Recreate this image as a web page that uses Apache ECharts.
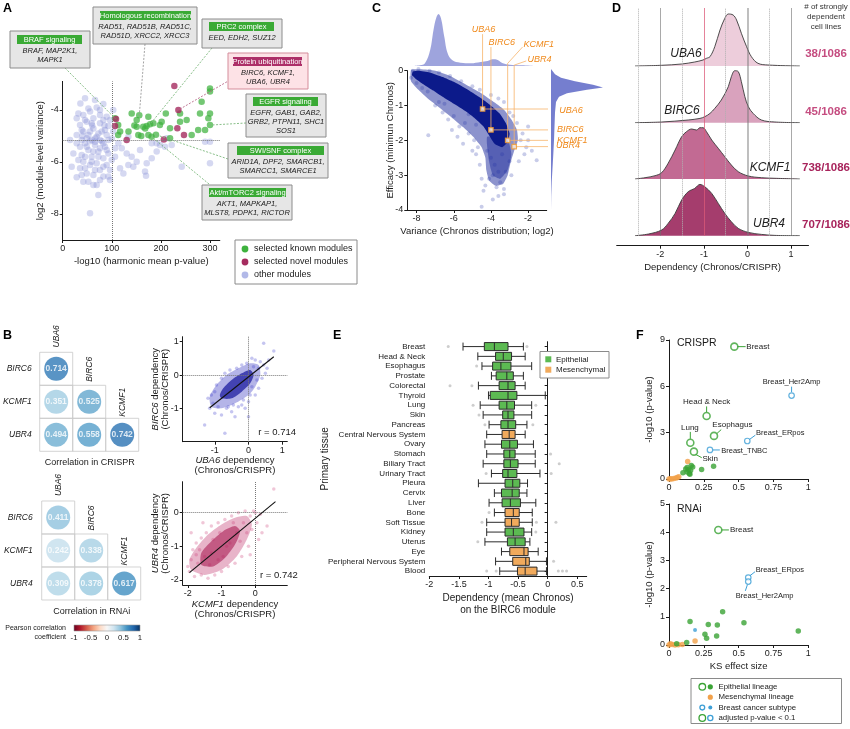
<!DOCTYPE html>
<html>
<head>
<meta charset="utf-8">
<script src="https://cdn.jsdelivr.net/npm/echarts@6/dist/echarts.min.js"></script>
<style>
  html, body { margin: 0; padding: 0; background: #fff; }
  #chart { width: 850px; height: 729px; }
</style>
</head>
<body>
<div id="chart"></div>
<script>
const FONT = '"Liberation Sans", Arial, Helvetica, sans-serif';
const INK = '#1a1a1a';

// ---------- A: module variance vs harmonic mean p ----------
const aKnown = [[106.6,-4.32],[113,-4.58],[117,-4.83],[113,-4.96],[134,-4.83],[140.5,-4.13],[150.7,-4.38],[150.7,-4.64],
  [154,-4.96],[164,-4.64],[168,-4.71],[171,-4.62],[174.5,-4.26],[174.5,-4.96],[181,-5.03],[184.7,-4.51],[198,-4.58],
  [201.6,-4.45],[210,-4.13],[218.6,-4.7],[218.6,-5.09],[239,-4.13],[239,-4.45],[252.5,-4.38],[262.7,-4.96],[276,-4.77],
  [279.7,-4.13],[283,-3.68],[290,-4.77],[296.7,-4.32],[300,-3.17],[300,-3.29],[300,-4.13],[300,-4.58],[156,-4.2],
  [146,-4.6],[178,-4.55],[190,-4.95],[160,-5.0]];
const aNovel = [[227.4,-3.08],[235.6,-4.0],[108.6,-4.35],[106.6,-4.62],[130.3,-5.15],[206,-5.13],[233.5,-4.7],[247,-4.96]];
const aOther = [[45.5,-3.55],[82.8,-3.77],[69.2,-3.9],[55.7,-4.06],[76,-4.19],[42,-4.19],[28.5,-4.32],[62.5,-4.32],
  [89.6,-4.26],[48.9,-4.45],[76,-4.51],[35.3,-4.58],[93,-4.62],[62.5,-4.71],[42,-4.83],[79.4,-4.83],[52.3,-4.96],
  [28.5,-4.96],[89.6,-4.96],[69.2,-5.03],[38.7,-5.15],[59,-5.15],[76,-5.15],[93,-5.15],[45.5,-5.28],[65.8,-5.35],
  [35.3,-5.41],[86.2,-5.41],[52.3,-5.54],[72.6,-5.6],[93,-5.67],[38.7,-5.73],[59,-5.8],[82.8,-5.86],[42,-5.99],
  [69.2,-6.05],[55.7,-6.12],[89.6,-6.12],[35.3,-6.24],[76,-6.31],[48.9,-6.44],[62.5,-6.5],[96.4,-6.69],[42,-6.76],
  [69.2,-6.88],[28.5,-6.59],[72.6,-7.27],[55.7,-7.97],[93,-6.56],[103,-4.0],[96.4,-4.38],[103,-4.83],[106.6,-5.47],
  [99.8,-5.92],[15,-5.15],[21.7,-5.67],[18.3,-6.18],[52.3,-3.94],[65.8,-3.62],[76,-4.0],[31.9,-4.13],[45.5,-4.38],
  [59,-4.51],[82.8,-4.38],[38.7,-4.77],[55.7,-4.83],[72.6,-4.9],[86.2,-4.77],[48.9,-5.09],[65.8,-5.22],[82.8,-5.28],
  [28.5,-5.28],[48.9,-5.41],[76,-5.47],[62.5,-5.6],[89.6,-5.54],[45.5,-5.8],[72.6,-5.8],[31.9,-5.92],[59,-5.99],
  [82.8,-6.18],[45.5,-6.24],[65.8,-6.31],[96.4,-6.31],[38.7,-6.5],[82.8,-6.56],[52.3,-6.76],[62.5,-6.88],[76,-6.69],
  [55,-5.2],[66,-5.1],[80,-5.2],[40,-5.0],[60,-4.6],[85,-4.6],[100,-5.1],[36,-3.75],
  [106.6,-5.8],[130.3,-5.67],[140.5,-5.8],[150.7,-5.99],[133.7,-6.12],[116.8,-6.24],[143.9,-6.18],[167.7,-6.37],
  [181.3,-5.86],[171.1,-6.05],[191.4,-5.6],[208.4,-5.41],[191.4,-5.28],[181.3,-5.28],[211.8,-5.09],[242.4,-6.18],
  [300,-5.22],[300,-6.05],[290,-5.22],[113.4,-5.28],[120.2,-5.47],[157.5,-5.54],[133.7,-5.03],[222,-5.35],
  [123.6,-6.44],[198.2,-5.35],[169.7,-6.53]];
const aTicksX = [0, 100, 200, 300];
const aTicksY = [-8, -6, -4];
const aCut = [100, -5.15];

// ---------- B: correlations ----------
const bCols = ['UBA6', 'BIRC6', 'KCMF1'];
const bRows = ['BIRC6', 'KCMF1', 'UBR4'];
const bCrispr = [[0.714], [0.351, 0.525], [0.494, 0.558, 0.742]];
const bRnai = [[0.411], [0.242, 0.338], [0.309, 0.378, 0.617]];
const bScaleTicks = [-1, -0.5, 0, 0.5, 1];
const b1Halo = [[-1.1,-0.95],[-0.8,-1.0],[-0.4,-0.85],[0.0,-0.6],[0.2,-0.35],[0.35,0.0],[0.3,0.3],[0.05,0.35],
  [-0.3,0.2],[-0.65,0.0],[-0.95,-0.3],[-1.15,-0.65]];
const b1Core = [[-0.8,-0.7],[-0.5,-0.7],[-0.2,-0.5],[0.05,-0.25],[0.15,0.0],[0.05,0.15],[-0.2,0.05],[-0.5,-0.15],
  [-0.75,-0.4],[-0.85,-0.6]];
const b1Pts = [[-1.15,-1.0],[-1.05,-0.85],[-1.2,-0.7],[-1.3,-1.5],[-0.7,-1.75],[0.45,0.95],[0.75,0.72],[0.2,0.45],
  [0.3,0.2],[-0.1,-1.0],[0.0,-1.25],[-0.5,-1.1],[-0.6,-0.95],[-0.3,-0.95],[0.3,-0.4],[0.5,0.05],[-0.8,-1.2],[-1.0,-0.5],
  [0.1,0.5],[-0.2,0.3],[0.0,-0.8],[-0.9,-0.95],[-0.45,-0.9],[0.2,-0.6],[0.35,0.4],[0.25,-0.15],[-0.7,0.05],[-0.55,0.15],
  [-0.95,-0.3],[-0.2,-0.9],[0.4,-0.1],[0.15,0.25],[-0.35,0.2],[-1.1,-0.6],[-0.65,-1.0],[0.05,-0.6],[-0.15,-0.75],
  [0.45,0.3],[-0.8,-0.1],[0.6,0.45],[0.55,0.2],[-0.4,-1.25],[-1.0,-1.15],[0.1,-0.35],[-0.05,0.35]];
const b1Fit = [[-1.15,-0.98],[0.75,0.55]];
const b2Halo = [[-1.9,-1.7],[-1.5,-1.85],[-1.0,-1.7],[-0.55,-1.3],[-0.25,-0.8],[-0.1,-0.35],[-0.25,-0.1],[-0.6,-0.15],
  [-1.0,-0.35],[-1.4,-0.65],[-1.75,-1.05],[-1.95,-1.4]];
const b2Core = [[-1.6,-1.55],[-1.25,-1.6],[-0.9,-1.35],[-0.6,-0.95],[-0.45,-0.55],[-0.6,-0.4],[-0.95,-0.55],
  [-1.3,-0.85],[-1.6,-1.2]];
const b2Pts = [[-1.95,-1.75],[-1.8,-1.9],[-1.7,-1.5],[-1.9,-1.4],[-1.6,-1.85],[-1.4,-1.95],[-1.2,-1.85],[-1.0,-1.75],
  [-0.8,-1.6],[-1.85,-1.1],[-1.75,-0.9],[-1.6,-0.75],[-1.45,-0.6],[-1.3,-0.4],[-1.1,-0.3],[-0.9,-0.2],[-0.7,-0.1],
  [-0.5,0.0],[-0.3,0.05],[-0.15,-0.1],[0.0,0.0],[0.05,-0.3],[0.2,-0.6],[0.55,0.7],[0.1,-0.8],[-0.1,-0.5],[-0.2,-1.0],
  [-0.4,-1.3],[-0.6,-1.5],[-1.55,-0.3],[-1.9,-0.6],[-1.3,-1.2],[-1.5,-1.3],[-0.95,-1.3],[-0.75,-0.9],[-0.55,-0.6],
  [-0.35,-0.3],[-1.05,-0.6],[-1.25,-0.8],[-0.65,-0.3],[-1.65,-1.1],[-0.85,-1.0],[-0.45,-0.85],[-0.25,-0.6],
  [-1.35,-1.55],[-1.1,-1.4],[0.15,-0.05],[-0.05,0.05],[-2.0,-1.6],[-1.75,-1.25],[-0.15,-1.25],[0.35,-0.4]];
const b2Fit = [[-1.95,-1.78],[0.6,0.33]];

// ---------- C: variance vs efficacy ----------
const cHalo = [[-8.3,0.02],[-7.8,0.04],[-7.0,0.0],[-6.2,-0.15],[-5.4,-0.38],[-4.6,-0.62],[-3.9,-0.88],[-3.3,-1.12],
  [-2.9,-1.4],[-2.6,-1.7],[-2.55,-2.0],[-2.75,-2.3],[-2.95,-2.65],[-3.1,-3.0],[-3.35,-3.25],[-3.75,-3.3],[-4.1,-3.15],
  [-4.25,-2.85],[-4.3,-2.5],[-4.5,-2.2],[-4.95,-1.9],[-5.5,-1.62],[-6.1,-1.35],[-6.8,-1.05],[-7.4,-0.8],[-7.9,-0.55],
  [-8.3,-0.3]];
const cTail = [[-4.2,-1.9],[-3.1,-2.0],[-2.9,-2.4],[-3.1,-2.85],[-3.5,-3.1],[-3.9,-3.0],[-4.1,-2.6]];
const cCore = [[-8.2,-0.02],[-7.9,0.0],[-7.3,-0.05],[-6.6,-0.18],[-6.0,-0.32],[-5.4,-0.5],[-4.8,-0.7],[-4.3,-0.88],
  [-3.9,-1.05],[-3.5,-1.25],[-3.2,-1.5],[-3.0,-1.8],[-3.1,-2.05],[-3.4,-2.2],[-3.8,-2.1],[-4.1,-1.85],[-4.4,-1.6],
  [-4.9,-1.35],[-5.4,-1.15],[-6.0,-0.95],[-6.6,-0.75],[-7.1,-0.57],[-7.6,-0.4],[-8.0,-0.25],[-8.25,-0.12]];
const cPts = [[-4.2,-2.3],[-4.0,-2.5],[-3.8,-2.7],[-3.6,-2.9],[-3.9,-3.0],[-4.1,-3.1],[-3.5,-3.2],[-3.3,-3.4],
  [-3.7,-3.35],[-4.3,-3.3],[-4.5,-3.1],[-4.6,-2.7],[-4.8,-2.4],[-3.2,-2.9],[-3.0,-2.6],[-2.9,-3.0],[-3.4,-2.4],
  [-3.6,-3.6],[-3.9,-3.7],[-4.4,-3.45],[-4.5,-3.91],[-3.3,-3.55],[-7.0,-1.0],[-6.6,-1.2],[-6.3,-1.4],[-6.0,-1.3],
  [-5.7,-1.6],[-5.4,-1.5],[-5.2,-1.8],[-4.9,-2.0],[-5.5,-2.1],[-5.8,-1.9],[-6.1,-1.7],[-7.37,-1.85],[-6.8,-0.9],
  [-7.4,-0.6],[-7.7,-0.5],[-5.0,-2.3],[-4.7,-2.2],[-6.5,-0.95],[-5.2,-1.25],[-4.8,-1.55],[-3.0,-1.2],[-2.6,-1.5],
  [-2.3,-1.8],[-2.0,-2.0],[-1.8,-2.3],[-2.2,-2.4],[-2.5,-2.6],[-1.54,-2.57],[-2.4,-2.0],[-2.7,-2.2],[-2.1,-2.2],
  [-3.3,-0.9],[-3.6,-0.8],[-4.0,-0.7],[-4.6,-0.55],[-2.8,-1.3],[-2.0,-1.6],[-8.2,0.0],[-7.9,0.05],[-7.3,0.0],
  [-6.8,-0.05],[-6.2,-0.15],[-5.6,-0.3],[-5.0,-0.45],[-8.3,-0.2],[-8.0,-0.35]];
const cTopDensity = [[-8.2,0],[-7.82,0.7],[-7.55,2.7],[-7.27,16],[-7.09,36],[-6.95,47.7],[-6.82,52],[-6.69,47.7],
  [-6.51,29.3],[-6.33,12.7],[-6.09,6],[-5.64,3.3],[-5.09,2.7],[-4.55,4],[-4.18,5],[-3.91,6.7],[-3.64,6],[-3.36,2.7],
  [-3.0,1.3],[-2.36,0.7],[-1.64,0]];
const cRightDensity = [[0.05,0],[-0.1,4],[-0.2,10],[-0.3,24],[-0.4,42],[-0.48,52],[-0.55,36],[-0.65,16],[-0.75,8],
  [-0.9,5],[-1.2,4],[-1.6,3.5],[-2.0,3],[-2.4,2.3],[-2.8,1.5],[-3.2,0.7],[-3.6,0.2],[-4,0]];
const cGenes = ['UBA6', 'BIRC6', 'KCMF1', 'UBR4'];
const cGeneVar = [-4.45, -4.0, -3.1, -2.75];
const cGeneEff = [-1.1, -1.7, -2.0, -2.18];
const cTicksX = [-8, -6, -4, -2];
const cTicksY = [-4, -3, -2, -1, 0];

// ---------- D: ridgelines ----------
const dGenes = ['UBA6', 'BIRC6', 'KCMF1', 'UBR4'];
const dCounts = ['38/1086', '45/1086', '738/1086', '707/1086'];
const dUBA6 = [[-2.58,0],[-1.97,0.7],[-1.51,2],[-1.21,4],[-1.02,6],[-0.94,7.7],[-0.86,9.3],[-0.75,19.3],[-0.63,36],
  [-0.52,47.7],[-0.44,52],[-0.33,51],[-0.25,46],[-0.14,32.7],[-0.02,19.3],[0.09,9.3],[0.24,2.7],[0.47,1],[1.2,0]];
const dBIRC6 = [[-2.58,0],[-1.97,0.7],[-1.36,2.7],[-1.09,4.3],[-0.98,6],[-0.86,9.3],[-0.75,14.3],[-0.6,22.7],
  [-0.44,36],[-0.37,46],[-0.29,52],[-0.21,51],[-0.14,41],[-0.06,26],[0.02,16],[0.13,9.3],[0.32,2.7],[0.63,0.7],[1.2,0]];
const dKCMF1 = [[-2.58,0],[-2.35,1.3],[-2.12,3.3],[-1.97,6.3],[-1.82,15.7],[-1.66,29],[-1.51,42.3],[-1.4,47.3],
  [-1.28,50],[-1.17,49],[-1.09,51.3],[-1.02,51.3],[-0.94,47.3],[-0.82,39],[-0.67,30.7],[-0.52,22.3],[-0.37,14],
  [-0.21,7.3],[0.02,3],[0.32,1.3],[0.63,0.7],[1.2,0]];
const dUBR4 = [[-2.58,0],[-2.27,1.7],[-1.97,5.7],[-1.82,12.3],[-1.66,22.3],[-1.51,35.7],[-1.36,44],[-1.21,47.3],
  [-1.09,51.3],[-0.98,49],[-0.82,42.3],[-0.67,32.3],[-0.52,22.3],[-0.37,14],[-0.21,7.3],[0.02,3.3],[0.32,1.3],
  [0.63,0.3],[1.2,0]];
const dTicks = [-2, -1, 0, 1];

// ---------- E: tissue boxplots ----------
const eTissues = ['Breast', 'Head & Neck', 'Esophagus', 'Prostate', 'Colorectal', 'Thyroid', 'Lung', 'Skin',
  'Pancreas', 'Central Nervous System', 'Ovary', 'Stomach', 'Biliary Tract', 'Urinary Tract', 'Pleura', 'Cervix',
  'Liver', 'Bone', 'Soft Tissue', 'Kidney', 'Uterus', 'Eye', 'Peripheral Nervous System', 'Blood'];
const eLineage = ['E','E','E','E','E','E','E','E','E','M','E','E','E','E','E','E','E','M','M','E','E','M','M','M'];
const eBoxes = [[-1.43,-1.07,-0.9,-0.67,-0.41],[-1.18,-0.88,-0.75,-0.61,-0.38],[-1.11,-0.93,-0.79,-0.62,-0.27],
  [-0.95,-0.87,-0.69,-0.58,-0.41],[-1.17,-0.82,-0.67,-0.55,-0.38],[-1.0,-0.97,-0.67,-0.52,-0.04],
  [-1.14,-0.82,-0.69,-0.56,-0.27],[-1.09,-0.76,-0.67,-0.57,-0.27],[-0.99,-0.79,-0.67,-0.54,-0.35],
  [-1.03,-0.77,-0.65,-0.55,-0.38],[-1.06,-0.78,-0.64,-0.51,-0.24],[-1.03,-0.74,-0.64,-0.55,-0.21],
  [-1.09,-0.74,-0.63,-0.5,-0.21],[-0.95,-0.76,-0.67,-0.52,-0.13],[-1.17,-0.72,-0.59,-0.47,-0.34],
  [-0.9,-0.78,-0.6,-0.48,-0.35],[-0.99,-0.77,-0.63,-0.46,-0.2],[-0.9,-0.72,-0.58,-0.48,-0.26],
  [-1.03,-0.72,-0.61,-0.48,-0.26],[-1.03,-0.72,-0.58,-0.4,-0.27],[-1.06,-0.68,-0.55,-0.38,-0.3],
  [-0.78,-0.64,-0.4,-0.33,-0.16],[-0.88,-0.59,-0.37,-0.31,-0.02],[-0.81,-0.51,-0.38,-0.18,-0.02]];
const eOutliers = [[-1.68,0],[-0.35,0],[-1.2,2],[-1.65,4],[-1.28,4],[-1.26,6],[-0.2,6],[-1.16,7],[-1.06,8],[-0.25,8],
  [0.05,11],[0.196,12],[-1.04,13],[0.06,13],[-0.99,17],[-1.11,18],[-0.19,18],[0.14,18],[-0.2,19],[-1.18,20],[0.1,22],
  [-1.03,23],[-0.87,23],[0.18,23],[0.25,23],[0.32,23]];
const eTicks = [-2, -1.5, -1, -0.5, 0, 0.5];

// ---------- F: KS effect size ----------
const fCrisprEpi = [[0.1,0.4],[0.12,0.65],[0.13,0.45],[0.146,0.36],[0.15,0.3],[0.16,0.88],[0.17,0.78],[0.14,0.6],
  [0.234,0.62],[0.32,0.83],[0.13,0.75],[0.155,0.55]];
const fCrisprMes = [[0,0],[0.01,0.01],[0.02,0],[0.035,0.03],[0.05,0.06],[0.06,0.1],[0.07,0.15],[0.134,1.13]];
const fCrisprSigNames = ['Breast', 'Head & Neck', 'Esophagus', 'Lung', 'Skin'];
const fCrisprSig = [[0.469,8.57],[0.27,4.08],[0.323,2.79],[0.153,2.35],[0.179,1.77]];
const fCrisprSubNames = ['Breast_Her2Amp', 'Breast_ERpos', 'Breast_TNBC'];
const fCrisprSub = [[0.88,5.4],[0.562,2.46],[0.294,1.88]];
const fRnaiEpi = [[0.151,0.83],[0.282,0.73],[0.347,0.71],[0.385,1.18],[0.538,0.79],[0.928,0.5],[0.258,0.38],
  [0.27,0.24],[0.342,0.32],[0.127,0.09],[0.055,0.04]];
const fRnaiMes = [[0,0],[0.01,0.04],[0.024,0.02],[0.043,0],[0.067,0.01],[0.096,0.02],[0.187,0.14]];
const fRnaiSubDot = [[0.187,0.53]];
const fRnaiSigNames = ['Breast'];
const fRnaiSig = [[0.354,4.08]];
const fRnaiSubNames = ['Breast_ERpos', 'Breast_Her2Amp'];
const fRnaiSub = [[0.569,2.39],[0.569,2.25]];
const fTicksX = [0, 0.25, 0.5, 0.75, 1];

// ---------- colours ----------
const GREEN = '#3aa335', ORANGE = '#f2a14a', BLUE = '#3d9fd6', MAROON = '#a52c5f';
const RDBU = [[-1,'#67001f'],[-0.8,'#b2182b'],[-0.6,'#d6604d'],[-0.4,'#f4a582'],[-0.2,'#fddbc7'],[0,'#f7f7f7'],
  [0.2,'#d1e5f0'],[0.4,'#92c5de'],[0.6,'#4393c3'],[0.8,'#2166ac'],[1,'#053061']];
function rdbu(v) {
  for (let i = 1; i < RDBU.length; i++) {
    if (v <= RDBU[i][0]) {
      const [v0, c0] = RDBU[i - 1], [v1, c1] = RDBU[i];
      const t = (v - v0) / (v1 - v0);
      const a = echarts.color.parse(c0), b = echarts.color.parse(c1);
      return 'rgb(' + [0, 1, 2].map(k => Math.round(a[k] + (b[k] - a[k]) * t)).join(',') + ')';
    }
  }
  return RDBU[RDBU.length - 1][1];
}

// ---------- layout ----------
const GA = 0, GC = 1, GCT = 2, GCR = 3, GD = 4, GB1 = 9, GB2 = 10, GM1 = 11, GM2 = 12, GE = 13, GF1 = 14, GF2 = 15;
const ridgeBase = [66, 122.7, 179, 235.7];
const grids = [
  {left: 62.7, top: 81.4, width: 157.1, height: 158.6},
  {left: 407.3, top: 70.7, width: 139.4, height: 139.3},
  {left: 407.3, top: 10, width: 139.4, height: 56},
  {left: 551, top: 70.7, width: 55, height: 139.3},
  {left: 616.7, top: 8, width: 191.8, height: 237.7},
  ...ridgeBase.map(b => ({left: 616.7, top: b - 56.6, width: 191.8, height: 56.6})),
  {left: 182.7, top: 336.7, width: 104.6, height: 105},
  {left: 182.7, top: 481.7, width: 104.6, height: 103.3},
  {left: 39.7, top: 352.3, width: 99, height: 99},
  {left: 41.7, top: 501, width: 99, height: 99},
  {left: 429.3, top: 341.7, width: 157.4, height: 234.3},
  {left: 669, top: 340, width: 139.3, height: 139},
  {left: 669, top: 504, width: 139.3, height: 141},
].map(g => Object.assign({containLabel: false, outerBoundsMode: 'none'}, g));

const nameStyle = {fontSize: 9.5, color: INK, fontFamily: FONT, lineHeight: 10.5, rich: {i: {fontStyle: 'italic', fontSize: 9.5, fontFamily: FONT, color: INK}}};
function axis(gi, min, max, ticks, extra) {
  return Object.assign({
    type: 'value', gridIndex: gi, min, max,
    axisLine: {show: true, onZero: false, lineStyle: {color: INK, width: 1}},
    axisTick: {show: true, length: 3, customValues: ticks, lineStyle: {color: INK}},
    axisLabel: {customValues: ticks, fontSize: 9, color: INK, fontFamily: FONT, margin: 4},
    splitLine: {show: false},
    nameLocation: 'middle', nameMoveOverlap: false,
    nameTextStyle: nameStyle,
  }, extra || {});
}
function hidden(gi, min, max, extra) {
  return Object.assign({type: 'value', gridIndex: gi, min, max, show: false, splitLine: {show: false}}, extra || {});
}

const xAxes = [
  axis(GA, 0, 320, aTicksX, {name: '-log10 (harmonic mean p-value)', nameGap: 16}),
  axis(GC, -8.5, -1, cTicksX, {name: 'Variance (Chronos distribution; log2)', nameGap: 16}),
  hidden(GCT, -8.5, -1),
  hidden(GCR, 0, 55),
  axis(GD, -3, 1.4, dTicks, {name: 'Dependency (Chronos/CRISPR)', nameGap: 16}),
  hidden(5, -3, 1.4), hidden(6, -3, 1.4), hidden(7, -3, 1.4), hidden(8, -3, 1.4),
  axis(GB1, -1.95, 1.15, [-1, 0, 1], {name: '{i|UBA6} dependency\n(Chronos/CRISPR)', nameGap: 13}),
  axis(GB2, -2.15, 0.95, [-2, -1, 0], {name: '{i|KCMF1} dependency\n(Chronos/CRISPR)', nameGap: 14}),
  {type: 'category', gridIndex: GM1, data: bCols, show: false},
  {type: 'category', gridIndex: GM2, data: bCols, show: false},
  axis(GE, -2, 0.66, eTicks, {name: 'Dependency (mean Chronos)\non the BIRC6 module', nameGap: 16,
    nameTextStyle: Object.assign({}, nameStyle, {fontSize: 10, lineHeight: 12})}),
  axis(GF1, 0, 1, fTicksX),
  axis(GF2, 0, 1, fTicksX, {name: 'KS effect size', nameGap: 16}),
];
const yAxes = [
  axis(GA, -9, -2.9, aTicksY, {name: 'log2 (module-level variance)', nameGap: 17}),
  axis(GC, -4, 0, cTicksY, {name: 'Efficacy (minimun Chronos)', nameGap: 12}),
  hidden(GCT, 0, 56),
  hidden(GCR, -4, 0),
  hidden(GD, 0, 237.7),
  hidden(5, 0, 56.6), hidden(6, 0, 56.6), hidden(7, 0, 56.6), hidden(8, 0, 56.6),
  axis(GB1, -2, 1.15, [-1, 0, 1], {name: '{i|BIRC6} dependency\n(Chronos/CRISPR)', nameGap: 12}),
  axis(GB2, -2.15, 0.92, [-2, -1, 0], {name: '{i|UBR4} dependency\n(Chronos/CRISPR)', nameGap: 12}),
  {type: 'category', gridIndex: GM1, data: bRows, inverse: true, axisLine: {show: false}, axisTick: {show: false},
    axisLabel: {fontSize: 8.5, fontStyle: 'italic', color: INK, fontFamily: FONT, margin: 8}},
  {type: 'category', gridIndex: GM2, data: bRows, inverse: true, axisLine: {show: false}, axisTick: {show: false},
    axisLabel: {fontSize: 8.5, fontStyle: 'italic', color: INK, fontFamily: FONT, margin: 9}},
  {type: 'category', gridIndex: GE, data: eTissues, inverse: true, boundaryGap: true,
    axisLine: {show: true, lineStyle: {color: INK}}, axisTick: {show: true, length: 3, alignWithLabel: true, lineStyle: {color: INK}},
    axisLabel: {fontSize: 8, color: INK, fontFamily: FONT, margin: 4, interval: 0},
    name: 'Primary tissue', nameLocation: 'middle', nameGap: 99, nameMoveOverlap: false,
    nameTextStyle: Object.assign({}, nameStyle, {fontSize: 10})},
  axis(GF1, 0, 9, [0, 3, 6, 9], {name: '-log10 (p-value)', nameGap: 14}),
  axis(GF2, 0, 5, [0, 1, 2, 3, 4, 5], {name: '-log10 (p-value)', nameGap: 14}),
];

// ---------- series helpers ----------
function onGrid(gi, s) { return Object.assign({xAxisIndex: gi, yAxisIndex: gi, silent: true}, s); }
function poly(gi, pts, fill, z, smooth) {
  return onGrid(gi, {
    type: 'custom', data: pts, z: z || 2, clip: false,
    renderItem(params, api) {
      if (params.dataIndex !== 0) return null;
      return {type: 'polygon', shape: {points: pts.map(p => api.coord(p)), smooth: smooth == null ? 0.15 : smooth},
        style: {fill: fill}};
    }
  });
}
function dots(gi, data, color, size, extra) {
  return onGrid(gi, Object.assign({type: 'scatter', data, symbolSize: size, itemStyle: {color}, clip: false}, extra || {}));
}
function path(gi, data, color, width, extra) {
  return onGrid(gi, Object.assign({type: 'line', data, symbol: 'none', clip: false, z: 4,
    lineStyle: {color, width: width || 1}}, extra || {}));
}
const zeroLines = (items) => ({silent: true, symbol: 'none', label: {show: false},
  lineStyle: {type: 'dotted', color: '#777', width: 1}, data: items});

const series = [];
// A
series.push(dots(GA, aOther, 'rgba(125,135,210,0.4)', 6.5, {markLine: zeroLines([{xAxis: aCut[0]}, {yAxis: aCut[1]}])}));
series.push(dots(GA, aKnown, 'rgba(62,178,62,0.9)', 6.5));
series.push(dots(GA, aNovel, MAROON, 6.5));

// C
series.push(onGrid(GCT, {type: 'line', data: cTopDensity, smooth: 0.4, symbol: 'none',
  lineStyle: {width: 0}, areaStyle: {color: 'rgba(98,108,200,0.88)'}}));
series.push(poly(GCR, cRightDensity.map(d => [d[1], d[0]]), 'rgba(98,108,200,0.88)', 2, 0));
series.push(dots(GC, cPts, 'rgba(30,45,165,0.3)', 4));
series.push(poly(GC, cHalo, 'rgba(25,40,155,0.5)', 2));
series.push(poly(GC, cTail, 'rgba(20,35,150,0.45)', 2));
series.push(poly(GC, cCore, '#0c1a8a', 3));
cGenes.forEach((g, i) => {
  series.push(path(GC, [[cGeneVar[i], cGeneEff[i]], [-0.45, cGeneEff[i]]], '#f7b469', 0.8));
});
const cLeadTop = [[[-4.45, 1.05]], [[-4.0, 0.68]], [[-3.1, 0.21], [-2.3, 0.68]], [[-2.75, 0.16], [-2.1, 0.28]]];
cGenes.forEach((g, i) => {
  series.push(path(GC, [[cGeneVar[i], cGeneEff[i]]].concat(cLeadTop[i]), '#f7b469', 0.8));
});
series.push(dots(GC, cGenes.map((g, i) => [cGeneVar[i], cGeneEff[i]]), '#fff6e8', 4.5,
  {symbol: 'rect', z: 6, itemStyle: {color: '#fff3e0', borderColor: '#f39a2e', borderWidth: 1.2}}));

// D
const dLines = [
  [-2.5, 'dotted', '#b0b0b0', 1], [-1.5, 'dotted', '#b0b0b0', 1], [-0.5, 'dotted', '#b0b0b0', 1], [0.5, 'dotted', '#b0b0b0', 1],
  [-2, 'solid', 'rgba(110,110,110,0.75)', 0.8], [1, 'solid', 'rgba(110,110,110,0.75)', 0.8],
  [0, 'solid', 'rgba(120,120,120,0.6)', 1.6], [-1, 'solid', 'rgba(220,90,120,0.75)', 1],
];
series.push(onGrid(GD, {type: 'scatter', data: [], z: 5, markLine: {silent: true, symbol: 'none', label: {show: false},
  data: dLines.map(l => [{coord: [l[0], 10], lineStyle: {type: l[1], color: l[2], width: l[3]}}, {coord: [l[0], 237.7]}])}}));
const dFill = ['#edcddb', '#d9a2bd', '#c26a93', '#a53d6d'];
[dUBA6, dBIRC6, dKCMF1, dUBR4].forEach((d, i) => {
  series.push(onGrid(5 + i, {type: 'line', data: d, smooth: 0.35, symbol: 'none', z: 3,
    lineStyle: {color: '#3a3a3a', width: 0.9}, areaStyle: {color: dFill[i], opacity: 1}}));
});

// B scatter plots
series.push(poly(GB1, b1Halo, 'rgba(40,40,190,0.35)', 2, 0.25));
series.push(poly(GB1, b1Core, 'rgba(30,30,160,0.75)', 3, 0.25));
series.push(dots(GB1, b1Pts, 'rgba(45,45,200,0.35)', 3.5, {markLine: zeroLines([{xAxis: 0}, {yAxis: 0}])}));
series.push(path(GB1, b1Fit, '#111', 1.1, {z: 6}));
series.push(poly(GB2, b2Halo, 'rgba(190,40,100,0.35)', 2, 0.25));
series.push(poly(GB2, b2Core, 'rgba(170,30,85,0.6)', 3, 0.25));
series.push(dots(GB2, b2Pts, 'rgba(200,50,110,0.35)', 3.5, {markLine: zeroLines([{xAxis: 0}, {yAxis: 0}])}));
series.push(path(GB2, b2Fit, '#111', 1.1, {z: 6}));

// B matrices
function matrixSeries(gi, vals) {
  const cells = [], circ = [];
  vals.forEach((row, r) => row.forEach((v, c) => {
    cells.push([c, r]);
    circ.push({value: [c, r, v], itemStyle: {color: rdbu(v)}});
  }));
  return [
    dots(gi, cells, 'rgba(0,0,0,0)', [33, 33], {symbol: 'rect', z: 2,
      itemStyle: {color: 'rgba(0,0,0,0)', borderColor: '#c9c9c9', borderWidth: 1}}),
    dots(gi, circ, '#999', 24, {z: 3, label: {show: true, position: 'inside', color: '#fff', fontSize: 8.5,
      fontWeight: 'bold', fontFamily: FONT, formatter: p => p.value[2].toFixed(3)}}),
  ];
}
series.push(...matrixSeries(GM1, bCrispr), ...matrixSeries(GM2, bRnai));

// E
series.push(onGrid(GE, {type: 'boxplot', boxWidth: [8, 8], z: 3,
  itemStyle: {borderColor: '#2b2b2b', borderWidth: 1},
  data: eBoxes.map((b, i) => ({value: b, itemStyle: {color: eLineage[i] === 'E' ? '#5cba52' : '#f1aa5c', borderColor: '#2b2b2b'}}))}));
series.push(dots(GE, eOutliers.map(o => [o[0], eTissues[o[1]]]), 'rgba(150,150,150,0.6)', 3));

// F
const hollow = (c, w) => ({color: '#fff', borderColor: c, borderWidth: w});
series.push(dots(GF1, fCrisprMes, ORANGE, 5.5));
series.push(dots(GF1, fCrisprEpi, GREEN, 5.5));
series.push(dots(GF1, fCrisprSig, '#fff', 7, {itemStyle: hollow(GREEN, 1.6), z: 4}));
series.push(dots(GF1, fCrisprSub, '#fff', 5.5, {itemStyle: hollow(BLUE, 1.2), z: 4}));
series.push(dots(GF2, fRnaiMes, ORANGE, 5.5));
series.push(dots(GF2, fRnaiEpi, GREEN, 5.5));
series.push(dots(GF2, fRnaiSubDot, BLUE, 4));
series.push(dots(GF2, fRnaiSig, '#fff', 7, {itemStyle: hollow(GREEN, 1.6), z: 4}));
series.push(dots(GF2, fRnaiSub, '#fff', 5.5, {itemStyle: hollow(BLUE, 1.2), z: 4}));

const chart = echarts.init(document.getElementById('chart'), null, {renderer: 'canvas'});
chart.setOption({
  animation: false,
  backgroundColor: '#fff',
  textStyle: {fontFamily: FONT},
  grid: grids, xAxis: xAxes, yAxis: yAxes, series: series,
});

// ---------- annotations (positioned through the axes) ----------
const px = (gi, p) => chart.convertToPixel({gridIndex: gi}, p);
const G = [];
function text(x, y, s, o) {
  const st = Object.assign({text: s, fontFamily: FONT, fontSize: 9, fill: INK, align: 'left', verticalAlign: 'middle'}, o || {});
  st.textAlign = st.align; st.textVerticalAlign = st.verticalAlign;
  G.push({type: 'text', x, y, rotation: (o && o.rot) || 0, z: 60, silent: true, style: st});
}
function seg(a, b, o) {
  G.push({type: 'line', z: 55, silent: true, shape: {x1: a[0], y1: a[1], x2: b[0], y2: b[1]},
    style: Object.assign({stroke: '#333', lineWidth: 1}, o || {})});
}
function box(x, y, w, h, o) {
  G.push({type: 'rect', z: (o && o.zz) || 58, silent: true, shape: {x, y, width: w, height: h},
    style: Object.assign({fill: '#fff', stroke: '#888', lineWidth: 1}, o || {})});
}
function dot(x, y, r, o) {
  G.push({type: 'circle', z: 60, silent: true, shape: {cx: x, cy: y, r}, style: Object.assign({fill: '#000'}, o || {})});
}

// panel letters
[['A', 3, 9], ['C', 372, 9], ['D', 612, 9], ['B', 3, 336], ['E', 333, 336], ['F', 636, 336]].forEach(l =>
  text(l[1], l[2], l[0], {fontSize: 12.5, fontWeight: 'bold', fill: '#000'}));

// A: annotation boxes
const aNotes = [
  {title: 'BRAF signaling', lines: ['BRAF, MAP2K1,', 'MAPK1'], box: [10, 31, 80, 37], head: [17, 35, 65, 9], from: [65, 68], to: [106.6, -4.32]},
  {title: 'Homologous recombination', lines: ['RAD51, RAD51B, RAD51C,', 'RAD51D, XRCC2, XRCC3'], box: [93, 7, 104, 37], head: [100, 11, 91, 9], from: [145, 44], to: [156, -4.2], lc: '#9a9a9a'},
  {title: 'PRC2 complex', lines: ['EED, EDH2, SUZ12'], box: [202, 19, 80, 29], head: [209, 22, 65, 9], from: [212, 48], to: [178, -4.55]},
  {title: 'Protein ubiquitination', lines: ['BIRC6, KCMF1,', 'UBA6, UBR4'], box: [228, 53, 80, 36], head: [233, 57, 69, 9], from: [230, 80], to: [235.6, -4.0], novel: true},
  {title: 'EGFR signaling', lines: ['EGFR, GAB1, GAB2,', 'GRB2, PTPN11, SHC1', 'SOS1'], box: [246, 94, 80, 43], head: [253, 97, 65, 9], from: [246, 123], to: [300, -4.58]},
  {title: 'SWI/SNF complex', lines: ['ARID1A, DPF2, SMARCB1,', 'SMARCC1, SMARCE1'], box: [228, 143, 100, 35], head: [237, 146, 87, 9], from: [228, 159], to: [190, -4.95]},
  {title: 'Akt/mTORC2 signaling', lines: ['AKT1, MAPKAP1,', 'MLST8, PDPK1, RICTOR'], box: [202, 185, 90, 35], head: [209, 188, 77, 9], from: [209, 184], to: [181, -5.03]},
];
aNotes.forEach(n => {
  seg(n.from, px(GA, n.to), {stroke: n.novel ? '#b86a8a' : (n.lc || '#7cb87c'), lineWidth: 0.9, lineDash: [2, 1.5]});
  const [bx, by, bw, bh] = n.box, [hx, hy, hw, hh] = n.head;
  box(bx, by, bw, bh, n.novel ? {fill: '#fde2e6', stroke: '#d48d9b'} : {fill: '#e6e6e6', stroke: '#8c8c8c'});
  box(hx, hy, hw, hh, {fill: n.novel ? '#ad2f68' : '#3aaa35', stroke: 'none', lineWidth: 0, zz: 59});
  text(hx + hw / 2, hy + hh / 2 + 0.3, n.title, {fontSize: 7.5, fill: '#fff', align: 'center'});
  n.lines.forEach((t, k) => text(bx + bw / 2, hy + hh + 7 + k * 9, t, {fontSize: 7.5, fontStyle: 'italic', align: 'center'}));
});
// A legend
box(235, 240, 122, 44, {stroke: '#8a8a8a', fill: '#fff', zz: 50});
[['selected known modules', 'rgb(62,178,62)'], ['selected novel modules', MAROON], ['other modules', 'rgb(178,185,232)']].forEach((it, k) => {
  dot(245, 249 + k * 13, 3.4, {fill: it[1]});
  text(254, 249 + k * 13, it[0], {fontSize: 9});
});

// B matrices: column labels, titles, colour bar
[[GM1, 'Correlation in CRISPR'], [GM2, 'Correlation in RNAi']].forEach(([gi, title]) => {
  const g = grids[gi];
  bCols.forEach((c, k) => text(g.left + 33 * k + 17, g.top + 33 * k - 16, c,
    {fontSize: 8.5, fontStyle: 'italic', align: 'center', rot: Math.PI / 2}));
  text(g.left + 50, g.top + 110.5, title, {fontSize: 9, align: 'center'});
});
G.push({type: 'rect', z: 58, silent: true, shape: {x: 74, y: 625, width: 66, height: 6},
  style: {stroke: '#999', lineWidth: 0.6, fill: new echarts.graphic.LinearGradient(0, 0, 1, 0,
    RDBU.map(s => ({offset: (s[0] + 1) / 2, color: s[1]})))}});
bScaleTicks.forEach(t => text(74 + (t + 1) * 33, 637.5, String(t), {fontSize: 7.8, align: 'center'}));
text(66, 628, 'Pearson correlation', {fontSize: 7, align: 'right'});
text(66, 637.5, 'coefficient', {fontSize: 7, align: 'right'});
// B scatter: r values
const p1 = px(GB1, [0.85, -1.73]), p2 = px(GB2, [0.7, -1.86]);
text(p1[0], p1[1], 'r = 0.714', {fontSize: 9.5, align: 'center'});
text(p2[0], p2[1], 'r = 0.742', {fontSize: 9.5, align: 'center'});

// C: gene labels
const OR = '#f08a1c';
const cTopLab = [[-4.4, 1.18, 'center'], [-3.42, 0.8, 'center'], [-2.25, 0.76, 'left'], [-2.03, 0.32, 'left']];
const cSideLab = [[-0.33, -1.13], [-0.45, -1.68], [-0.45, -1.99], [-0.5, -2.16]];
cGenes.forEach((g, i) => {
  const a = px(GC, cTopLab[i].slice(0, 2)), b = px(GC, cSideLab[i]);
  text(a[0], a[1], g, {fontSize: 9, fontStyle: 'italic', fill: OR, align: cTopLab[i][2]});
  text(b[0], b[1], g, {fontSize: 9, fontStyle: 'italic', fill: OR});
});

// D: labels
const dLab = [[686, 53.5], [682, 111], [770, 167.5], [769, 224]];
dGenes.forEach((g, i) => {
  text(dLab[i][0], dLab[i][1], g, {fontSize: 12, fontStyle: 'italic', align: 'center', fill: '#222'});
  text(826, dLab[i][1] + 0.5, dCounts[i], {fontSize: 11.5, fontWeight: 'bold', align: 'center', fill: i < 2 ? '#c54d80' : '#a8245c'});
});
['# of strongly', 'dependent', 'cell lines'].forEach((t, k) => text(826, 6.5 + k * 10.3, t, {fontSize: 8, align: 'center', fill: '#333'}));

// E legend
box(540, 351.5, 69, 26.5, {stroke: '#8a8a8a', fill: '#fff', zz: 50});
[['Epithelial', '#5cba52'], ['Mesenchymal', '#f1aa5c']].forEach((it, k) => {
  box(545.3, 356.3 + k * 10.4, 6, 6, {fill: it[1], stroke: 'none', lineWidth: 0});
  text(556, 359.3 + k * 10.4, it[0], {fontSize: 8});
});

// F: panel titles, labels and leaders
text(677, 343, 'CRISPR', {fontSize: 10.5});
text(677, 509.5, 'RNAi', {fontSize: 10.5});
const fLab = [
  [GF1, 'Breast', [0.555, 8.57], 'left', [[0.492, 8.57], [0.55, 8.57]], GREEN],
  [GF1, 'Breast_Her2Amp', [0.88, 6.3], 'center', [[0.88, 5.62], [0.88, 5.98]], BLUE],
  [GF1, 'Head & Neck', [0.27, 5.0], 'center', [[0.27, 4.33], [0.27, 4.7]], GREEN],
  [GF1, 'Esophagus', [0.455, 3.5], 'center', [[0.342, 2.93], [0.375, 3.2]], GREEN],
  [GF1, 'Breast_ERpos', [0.625, 3.0], 'left', [[0.578, 2.56], [0.62, 2.84]], BLUE],
  [GF1, 'Lung', [0.15, 3.3], 'center', [[0.153, 2.6], [0.153, 3.05]], GREEN],
  [GF1, 'Breast_TNBC', [0.375, 1.84], 'left', [[0.312, 1.88], [0.365, 1.88]], BLUE],
  [GF1, 'Skin', [0.24, 1.29], 'left', [[0.19, 1.6], [0.235, 1.38]], GREEN],
  [GF2, 'Breast', [0.438, 4.08], 'left', [[0.376, 4.08], [0.43, 4.08]], GREEN],
  [GF2, 'Breast_ERpos', [0.622, 2.66], 'left', [[0.582, 2.46], [0.618, 2.6]], BLUE],
  [GF2, 'Breast_Her2Amp', [0.686, 1.74], 'center', [[0.563, 2.14], [0.548, 1.92]], BLUE],
];
fLab.forEach(([gi, s, at, al, ld, col]) => {
  const p = px(gi, at);
  text(p[0], p[1], s, {fontSize: s.indexOf('_') > 0 ? 7.5 : 8, align: al, fill: '#222'});
  seg(px(gi, ld[0]), px(gi, ld[1]), {stroke: col, lineWidth: 1});
});
// F legend
box(691, 678.5, 150.5, 45, {stroke: '#8a8a8a', fill: '#fff', zz: 50});
const fLeg = [['Epithelial lineage', [['h', GREEN, 3.3], ['f', GREEN, 2.6]]], ['Mesenchymal lineage', [null, ['f', ORANGE, 2.6]]],
  ['Breast cancer subtype', [['h', BLUE, 2.4], ['f', BLUE, 2]]], ['adjusted p-value < 0.1', [['h', GREEN, 3.3], ['h', BLUE, 2.6]]]];
fLeg.forEach((it, k) => {
  const y = 686.8 + k * 10.4;
  it[1].forEach((m, j) => {
    if (!m) return;
    dot(702.3 + j * 8, y, m[2], m[0] === 'h' ? {fill: '#fff', stroke: m[1], lineWidth: 1.3} : {fill: m[1]});
  });
  text(718.5, y, it[0], {fontSize: 7.8});
});

chart.setOption({graphic: {elements: G}});
</script>
</body>
</html>
